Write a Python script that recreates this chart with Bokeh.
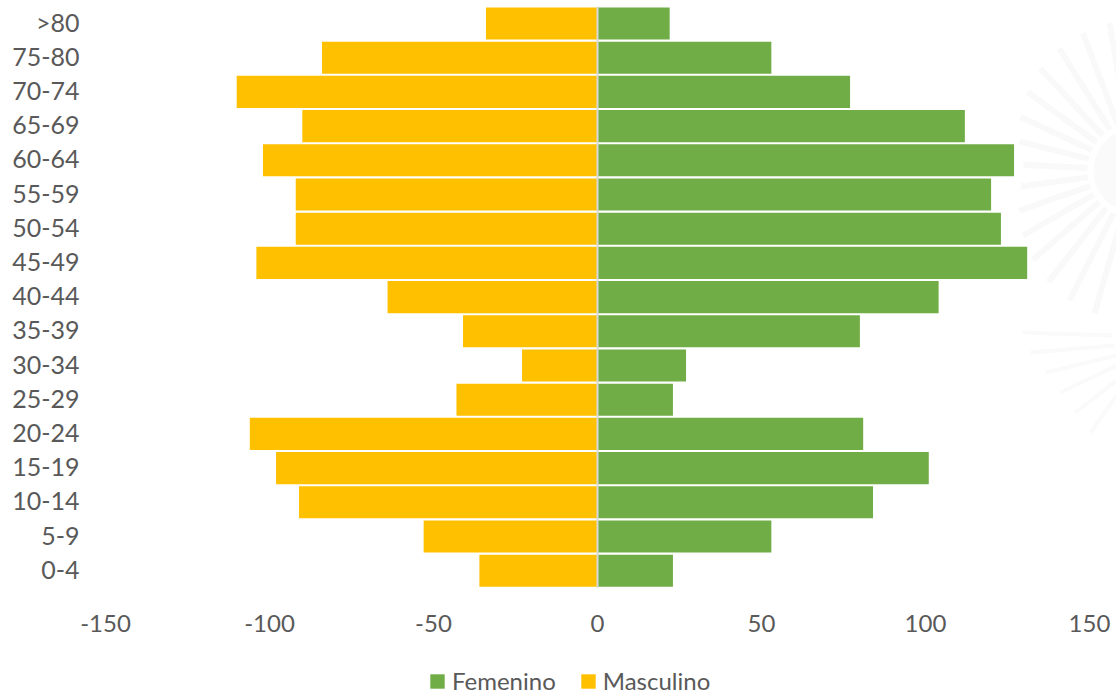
import numpy as np
from bokeh.plotting import figure
from bokeh.models import Range1d, Legend, LegendItem, FixedTicker
from bokeh.embed import file_html
from bokeh.resources import INLINE

age_groups = ["0-4", "5-9", "10-14", "15-19", "20-24", "25-29", "30-34", "35-39", "40-44",
              "45-49", "50-54", "55-59", "60-64", "65-69", "70-74", "75-80", ">80"]
femenino = [23, 53, 84, 101, 81, 23, 27, 80, 104, 131, 123, 120, 127, 112, 77, 53, 22]
masculino = [-36, -53, -91, -98, -106, -43, -23, -41, -64, -104, -92, -92, -102, -90, -110, -84, -34]
x_ticks = [-150, -100, -50, 0, 50, 100, 150]

GREEN = "#70ad47"
GOLD = "#ffc000"
TEXT = "#595959"

positions = list(range(len(age_groups)))

X_SCALE = (1089 - 105) / 300
ROW = 34.2
W, H = 1116, 695


def px_x(px):
    return (px - 105) / X_SCALE - 150


def px_y(py):
    return 16 - (py - 23) / ROW


# The frame fills the whole page so that legend and pinned axes can sit inside it unclipped
p = figure(width=W, height=H, output_backend="svg", toolbar_location=None,
           x_range=Range1d(px_x(0), px_x(W)), y_range=Range1d(px_y(H), px_y(0)),
           min_border_left=0, min_border_right=0, min_border_top=0, min_border_bottom=0,
           outline_line_color=None, background_fill_color=None, border_fill_color="white")
p.extra_y_ranges = {"labels": Range1d(px_y(H + 2), px_y(2))}
p.grid.visible = False

# Faint decorative emblem behind the chart
rad = np.radians(np.arange(100, 262, 11))
cx, cy = 1135, 170
outer = 110 + 40 * np.abs(np.sin(rad))
x0 = [px_x(cx + 48 * np.cos(a)) for a in rad]
y0 = [px_y(cy - 48 * np.sin(a)) for a in rad]
x1 = [px_x(cx + r * np.cos(a)) for a, r in zip(rad, outer)]
y1 = [px_y(cy - r * np.sin(a)) for a, r in zip(rad, outer)]
p.segment(x0, y0, x1, y1, line_color="#f9f9f9", line_width=6, level="underlay")
p.circle([px_x(cx)], [px_y(cy)], radius=42 / X_SCALE, fill_color="#fafafa",
         line_color=None, level="underlay")
fx0 = [px_x(v) for v in (1022, 1030, 1045, 1060, 1075, 1090)]
fy0 = [px_y(v) for v in (332, 352, 372, 392, 412, 432)]
fx1 = [px_x(v) for v in (1112, 1114, 1116, 1116, 1116, 1116)]
fy1 = [px_y(v) for v in (335, 345, 355, 365, 380, 395)]
p.segment(fx0, fy0, fx1, fy1, line_color="#fafafa", line_width=4, level="underlay")

r_f = p.hbar(y=positions, right=femenino, left=0, height=0.94, fill_color=GREEN, line_color=None)
r_m = p.hbar(y=positions, right=masculino, left=0, height=0.94, fill_color=GOLD, line_color=None)

p.segment([0], [-0.5], [0], [16.5], line_color="#d9d9d9", line_width=2)

p.xaxis.ticker = FixedTicker(ticks=x_ticks)
p.xaxis.major_label_overrides = {t: str(t) for t in x_ticks}
p.xaxis[0].fixed_location = -0.5
p.yaxis.ticker = FixedTicker(ticks=positions)
p.yaxis.major_label_overrides = {i: s for i, s in enumerate(age_groups)}
p.yaxis[0].y_range_name = "labels"
p.yaxis[0].fixed_location = -150
for ax in (p.xaxis[0], p.yaxis[0]):
    ax.axis_line_color = None
    ax.major_tick_line_color = None
    ax.minor_tick_line_color = None
    ax.major_label_text_color = TEXT
    ax.major_label_text_font = "Lato"
p.xaxis[0].major_label_text_font_size = "24px"
p.yaxis[0].major_label_text_font_size = "25px"
p.xaxis[0].major_label_standoff = 21
p.yaxis[0].major_label_standoff = 20

legend = Legend(items=[LegendItem(label="Femenino", renderers=[r_f]),
                       LegendItem(label="Masculino", renderers=[r_m])],
                orientation="horizontal", location=(428, 0),
                background_fill_alpha=0, border_line_color=None,
                glyph_width=18, glyph_height=18, label_standoff=6, spacing=23,
                padding=0, margin=0,
                label_text_font="Lato", label_text_font_size="24px", label_text_color=TEXT)
p.add_layout(legend)

open("out.html", "w").write(file_html(p, INLINE))
